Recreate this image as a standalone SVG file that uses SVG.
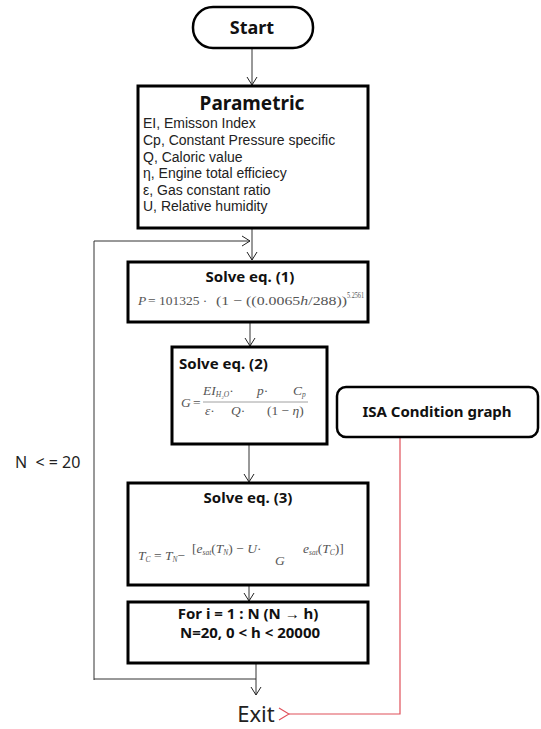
<svg xmlns="http://www.w3.org/2000/svg" width="541" height="729" viewBox="0 0 541 729">
<defs>
<marker id="arr" markerWidth="12" markerHeight="12" refX="10" refY="6" orient="auto" markerUnits="userSpaceOnUse">
<path d="M2,1 L10,6 L2,11" fill="none" stroke="#222" stroke-width="1"/>
</marker>
<marker id="arrR" markerWidth="14" markerHeight="14" refX="1" refY="7" orient="auto" markerUnits="userSpaceOnUse">
<path d="M11,1 L1,7 L11,13" fill="none" stroke="#e0505a" stroke-width="1.2"/>
</marker>
</defs>
<style>
.box{fill:#fff;stroke:#000;stroke-width:3}
.b{font-family:"Noto Sans","Open Sans",sans-serif;font-weight:bold;fill:#111}
.t{font-family:"Noto Sans","Open Sans",sans-serif;fill:#222}
.p{font-family:"Liberation Sans","Noto Sans",sans-serif;fill:#222;font-size:14px}
.m{font-family:"Liberation Serif","DejaVu Serif",serif;fill:#555;font-size:13.5px}
.i{font-style:italic}
.s{font-size:7.5px;font-style:italic}
.sup{font-size:7.5px}
.c{fill:none;stroke:#333;stroke-width:1}
</style>
<rect width="541" height="729" fill="#fff"/>
<g id="connectors">
<line class="c" x1="252" y1="48" x2="252" y2="85" marker-end="url(#arr)"/>
<line class="c" x1="252" y1="228" x2="252" y2="260" marker-end="url(#arr)"/>
<polyline class="c" points="94,680 94,241 250,241" marker-end="url(#arr)" stroke="#555"/>
<line class="c" x1="250" y1="322" x2="250" y2="346" marker-end="url(#arr)"/>
<line class="c" x1="249" y1="444" x2="249" y2="482" marker-end="url(#arr)"/>
<line class="c" x1="249" y1="585" x2="249" y2="601" marker-end="url(#arr)"/>
<polyline class="c" points="94,679 256,679"/>
<line class="c" x1="256" y1="663" x2="256" y2="695" marker-end="url(#arr)"/>
<polyline points="400,437 400,714 289,714" fill="none" stroke="#e0505a" stroke-width="1.2" marker-end="url(#arrR)"/>
</g>
<g id="start">
<rect x="193" y="7" width="120" height="41" rx="20" ry="20" fill="#fff" stroke="#000" stroke-width="2.5"/>
<text class="b" x="252" y="34" font-size="18" text-anchor="middle">Start</text>
</g>
<g id="parametric">
<rect class="box" x="138" y="86" width="230" height="142"/>
<text class="b" x="252" y="110" font-size="19" text-anchor="middle">Parametric</text>
<text class="p">
<tspan x="143" y="128">EI, Emisson Index</tspan>
<tspan x="143" y="145">Cp, Constant Pressure specific</tspan>
<tspan x="143" y="161.5">Q, Caloric value</tspan>
<tspan x="143" y="178">η, Engine total efficiecy</tspan>
<tspan x="143" y="194.5">ε, Gas constant ratio</tspan>
<tspan x="143" y="211">U, Relative humidity</tspan>
</text>
</g>
<g id="eq1">
<rect class="box" x="128" y="262" width="240" height="60"/>
<text class="b" x="250" y="282" font-size="15" text-anchor="middle">Solve eq. (1)</text>
<text class="m i" x="138" y="305">P</text>
<text class="m" x="148" y="305">= 101325 ·</text>
<text class="m" x="216" y="305" textLength="131" lengthAdjust="spacingAndGlyphs">(1 − ((0.0065<tspan class="i">h</tspan>/288))</text>
<text class="m sup" x="347" y="298" textLength="17" lengthAdjust="spacingAndGlyphs">5.2561</text>
</g>
<g id="eq2">
<rect class="box" x="172" y="347" width="155" height="97"/>
<text class="b" x="179" y="369" font-size="15">Solve eq. (2)</text>
<text class="m i" x="181" y="407">G</text>
<text class="m" x="193" y="407">=</text>
<line x1="203" y1="402" x2="308" y2="402" stroke="#888" stroke-width="0.8"/>
<text class="m" x="203" y="395"><tspan class="i">EI</tspan><tspan class="s" dy="2">H₂O</tspan><tspan dy="-2">·</tspan></text>
<text class="m" x="257" y="395"><tspan class="i">p</tspan>·</text>
<text class="m" x="293" y="395"><tspan class="i">C</tspan><tspan class="s" dy="2">p</tspan></text>
<text class="m" x="205" y="415"><tspan class="i">ε</tspan>·</text>
<text class="m" x="231" y="415"><tspan class="i">Q</tspan>·</text>
<text class="m" x="267" y="415">(1 − <tspan class="i">η</tspan>)</text>
</g>
<g id="isa">
<rect x="337" y="387" width="201" height="50" rx="9" ry="9" fill="#fff" stroke="#000" stroke-width="2.5"/>
<text class="b" x="437" y="417" font-size="15" text-anchor="middle">ISA Condition  graph</text>
</g>
<g id="eq3">
<rect class="box" x="128" y="483" width="240" height="102"/>
<text class="b" x="248" y="503" font-size="15" text-anchor="middle">Solve eq. (3)</text>
<text class="m" x="138" y="560"><tspan class="i">T</tspan><tspan class="s" dy="2">C</tspan><tspan dy="-2"> = </tspan><tspan class="i">T</tspan><tspan class="s" dy="2">N</tspan><tspan dy="-2">−</tspan></text>
<text class="m" x="192" y="553">[<tspan class="i">e</tspan><tspan class="s" dy="2">sat</tspan><tspan dy="-2">(</tspan><tspan class="i">T</tspan><tspan class="s" dy="2">N</tspan><tspan dy="-2">) − </tspan><tspan class="i">U</tspan>·</text>
<text class="m" x="303" y="553"><tspan class="i">e</tspan><tspan class="s" dy="2">sat</tspan><tspan dy="-2">(</tspan><tspan class="i">T</tspan><tspan class="s" dy="2">C</tspan><tspan dy="-2">)]</tspan></text>
<text class="m i" x="275" y="565">G</text>
</g>
<g id="forloop">
<rect class="box" x="128" y="602" width="240" height="61"/>
<text class="b" font-size="15" text-anchor="middle">
<tspan x="250" y="619">For i = 1 : N (N → h)</tspan>
<tspan x="250" y="638">N=20, 0 &lt; h &lt; 20000</tspan>
</text>
</g>
<g id="exit">
<text class="t" x="256" y="722" font-size="22" text-anchor="middle">Exit</text>
</g>
<g id="loop-label">
<text class="t" x="15" y="468" font-size="16" fill="#444" xml:space="preserve">N  &lt; = 20</text>
</g>
</svg>
